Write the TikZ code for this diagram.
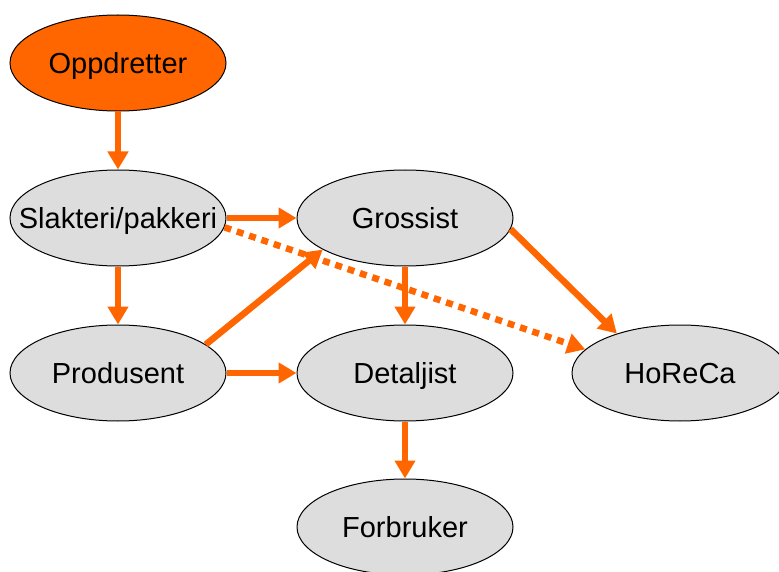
\documentclass[tikz,border=0pt]{standalone}
\usepackage{fontspec}
\setmainfont{Liberation Sans}
\usetikzlibrary{shapes.geometric,arrows.meta}
\definecolor{orng}{HTML}{FF6600}
\definecolor{grayfill}{HTML}{DDDDDD}
\newcommand{\ctext}[1]{\makebox[0pt][c]{#1}}
\begin{document}
\begin{tikzpicture}[x=1pt,y=-1pt,
  ell/.style={ellipse,draw=black,line width=1pt,fill=grayfill,minimum width=216pt,minimum height=96pt,inner sep=0pt,text height=21pt,text depth=0pt,font=\fontsize{29}{34}\selectfont},
  flow/.style={draw=orng,line width=6.5pt,-{Triangle[width=20pt,length=18pt]}},
  dflow/.style={flow,dash pattern=on 7pt off 6pt}]
\useasboundingbox (0,0) rectangle (779,572);
\node[ell,fill=orng] (opp) at (118,63) {\ctext{Oppdretter}};
\node[ell] (sla) at (118,218) {\ctext{Slakteri/pakkeri}};
\node[ell] (gro) at (405,218) {\ctext{Grossist}};
\node[ell] (pro) at (118,373) {\ctext{Produsent}};
\node[ell] (det) at (405,373) {\ctext{Detaljist}};
\node[ell] (hor) at (680,373) {\ctext{HoReCa}};
\node[ell] (for) at (405,527) {\ctext{Forbruker}};
\draw[flow] (opp.south) -- (sla.north);
\draw[flow] (sla.east) -- (gro.west);
\draw[flow] (sla.south) -- (pro.north);
\draw[dflow] (sla.-5) -- (hor.166);
\draw[flow] (gro.south) -- (det.north);
\draw[flow] (gro.-6) -- (hor.148);
\draw[flow] (pro.18) -- (gro.201);
\draw[flow] (pro.east) -- (det.west);
\draw[flow] (det.south) -- (for.north);
\end{tikzpicture}
\end{document}
